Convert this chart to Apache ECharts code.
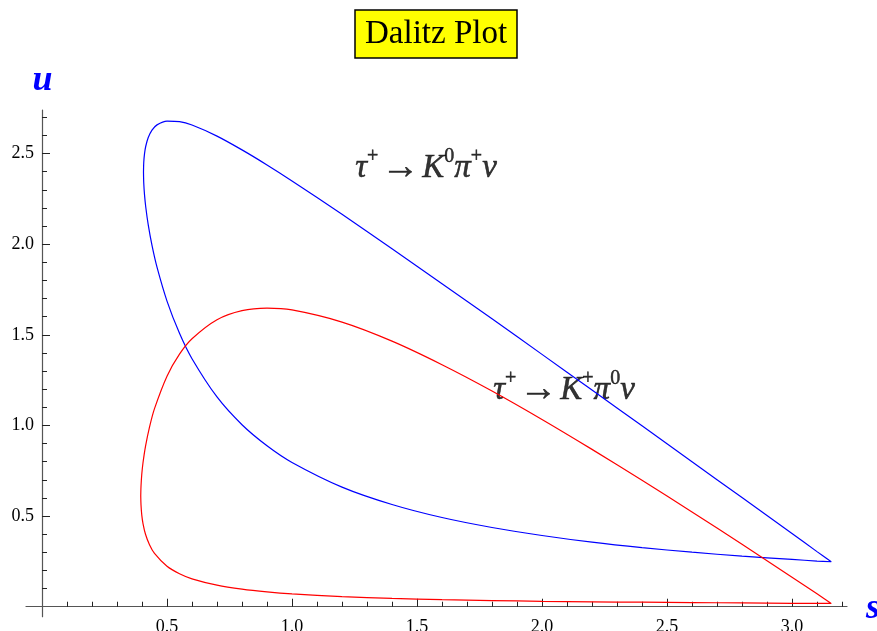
<!DOCTYPE html>
<html><head><meta charset="utf-8">
<script src="https://cdn.jsdelivr.net/npm/echarts@6/dist/echarts.min.js"></script>
<style>html,body{margin:0;padding:0;background:#fff;} #chart{width:877px;height:631px;}</style>
</head><body><div id="chart"></div>
<script>
// tau+ -> K0 pi+ nu  (blue boundary)
const blueS     = [0.406, 0.407, 0.41, 0.415, 0.425, 0.44, 0.46, 0.5, 0.55, 0.6, 0.7, 0.8, 0.9, 1.0, 1.2, 1.4, 1.6, 1.8, 2.0, 2.2, 2.4, 2.6, 2.8, 3.0, 3.1, 3.157];
const blueUpper = [2.396, 2.450, 2.498, 2.540, 2.588, 2.629, 2.658, 2.679, 2.676, 2.657, 2.596, 2.520, 2.437, 2.349, 2.165, 1.975, 1.782, 1.588, 1.392, 1.195, 0.998, 0.800, 0.602, 0.404, 0.304, 0.248];
const blueLower = [2.396, 2.337, 2.273, 2.205, 2.106, 1.993, 1.873, 1.686, 1.508, 1.368, 1.157, 1.004, 0.888, 0.796, 0.660, 0.564, 0.492, 0.437, 0.393, 0.356, 0.326, 0.301, 0.279, 0.261, 0.252, 0.248];
// tau+ -> K+ pi0 nu  (red boundary)
const redS      = [0.395, 0.396, 0.399, 0.404, 0.414, 0.43, 0.45, 0.5, 0.55, 0.6, 0.7, 0.8, 0.9, 1.0, 1.2, 1.4, 1.6, 1.8, 2.0, 2.2, 2.4, 2.6, 2.8, 3.0, 3.1, 3.157];
const redUpper  = [0.611, 0.663, 0.729, 0.794, 0.885, 0.991, 1.093, 1.272, 1.393, 1.478, 1.583, 1.633, 1.647, 1.637, 1.570, 1.465, 1.335, 1.190, 1.033, 0.868, 0.698, 0.523, 0.344, 0.163, 0.071, 0.018];
const redLower  = [0.611, 0.562, 0.507, 0.459, 0.400, 0.342, 0.294, 0.223, 0.182, 0.154, 0.119, 0.097, 0.082, 0.071, 0.056, 0.046, 0.039, 0.034, 0.030, 0.027, 0.025, 0.023, 0.021, 0.019, 0.019, 0.018];

const xMajorTicks = [0.5, 1.0, 1.5, 2.0, 2.5, 3.0];
const xMinorTicks = [0.1,0.2,0.3,0.4,0.6,0.7,0.8,0.9,1.1,1.2,1.3,1.4,1.6,1.7,1.8,1.9,2.1,2.2,2.3,2.4,2.6,2.7,2.8,2.9,3.1,3.2];
const yMajorTicks = [0.5, 1.0, 1.5, 2.0, 2.5];
const yMinorTicks = [0.1,0.2,0.3,0.4,0.6,0.7,0.8,0.9,1.1,1.2,1.3,1.4,1.6,1.7,1.8,1.9,2.1,2.2,2.3,2.4,2.6,2.7];

const titleText = 'Dalitz Plot';
const xName = 's';
const yName = 'u';
const labelBlue = '{b|τ}{p|+}{r|→}{b|K}{p|0}{b|π}{p|+}{b|ν}';
const labelRed  = '{b|τ}{p|+}{r|→}{b|K}{p|+}{b|π}{p|0}{b|ν}';
const labelBluePos = [1.536, 2.42];
const labelRedPos  = [2.088, 1.196];

function loop(s, up, lo) {
  const pts = s.map((v, i) => [v, up[i]]);
  for (let i = s.length - 2; i >= 0; i--) pts.push([s[i], lo[i]]);
  return pts;
}

const serif = 'Liberation Serif';
const axisColor = '#555';
const bold = { textBorderColor: '#000', textBorderWidth: 0.5 };
const rich = {
  b: Object.assign({ fontFamily: serif, fontStyle: 'italic', fontSize: 33, lineHeight: 42, color: '#000' }, bold),
  r: Object.assign({ fontFamily: serif, fontSize: 38, lineHeight: 42, color: '#000', padding: [0, 3, 0, 3] }, bold),
  p: Object.assign({ fontFamily: serif, fontSize: 20, lineHeight: 20, verticalAlign: 'top', color: '#000' }, bold)
};

const xBase = { type: 'value', min: -0.064, max: 3.22, position: 'bottom', splitLine: { show: false } };
const yBase = { type: 'value', min: -0.055, max: 2.74, position: 'left', splitLine: { show: false } };

const chart = echarts.init(document.getElementById('chart'), null, { renderer: 'canvas' });
chart.setOption({
  animation: false,
  backgroundColor: '#fff',
  title: {
    text: titleText, left: 355, top: 10,
    backgroundColor: '#ffff00', borderColor: '#000', borderWidth: 1.5,
    padding: [6, 10],
    textStyle: { fontFamily: serif, fontWeight: 'normal', fontSize: 33, lineHeight: 36, color: '#000' }
  },
  grid: { left: 26, right: 30, top: 110, bottom: 14.3, containLabel: false, outerBoundsMode: 'none' },
  xAxis: [
    Object.assign({}, xBase, {
      axisLine: { show: true, onZero: true, lineStyle: { color: axisColor, width: 1.2 } },
      axisTick: { show: true, inside: true, length: 8, customValues: xMajorTicks, lineStyle: { color: '#222', width: 1 } },
      axisLabel: { show: true, customValues: xMajorTicks, margin: 2, formatter: v => v.toFixed(1),
        fontFamily: serif, fontSize: 18, color: '#000' }
    }),
    Object.assign({}, xBase, {
      axisLine: { show: false, onZero: true },
      axisTick: { show: true, inside: true, length: 5, customValues: xMinorTicks, lineStyle: { color: '#222', width: 1 } },
      axisLabel: { show: false }
    })
  ],
  yAxis: [
    Object.assign({}, yBase, {
      axisLine: { show: true, onZero: true, lineStyle: { color: axisColor, width: 1.2 } },
      axisTick: { show: true, inside: true, length: 8, customValues: yMajorTicks, lineStyle: { color: '#222', width: 1 } },
      axisLabel: { show: true, customValues: yMajorTicks, margin: -8, formatter: v => v.toFixed(1),
        fontFamily: serif, fontSize: 18, color: '#000' }
    }),
    Object.assign({}, yBase, {
      axisLine: { show: false, onZero: true },
      axisTick: { show: true, inside: true, length: 5, customValues: yMinorTicks, lineStyle: { color: '#222', width: 1 } },
      axisLabel: { show: false }
    })
  ],
  graphic: [
    { type: 'text', x: 42.5, y: 81, style: { text: yName, align: 'center', verticalAlign: 'middle',
      font: 'italic bold 36px "Liberation Serif"', fill: '#0000ff' } },
    { type: 'text', x: 873, y: 609, style: { text: xName, align: 'center', verticalAlign: 'middle',
      font: 'italic bold 36px "Liberation Serif"', fill: '#0000ff' } }
  ],
  series: [
    { type: 'line', name: 'K0pi+nu', data: loop(blueS, blueUpper, blueLower), showSymbol: false, smooth: 0.3,
      lineStyle: { color: '#0000ff', width: 1.2 }, itemStyle: { color: '#0000ff' }, silent: true },
    { type: 'line', name: 'K+pi0nu', data: loop(redS, redUpper, redLower), showSymbol: false, smooth: 0.3,
      lineStyle: { color: '#ff0000', width: 1.2 }, itemStyle: { color: '#ff0000' }, silent: true },
    { type: 'scatter', symbolSize: 0, itemStyle: { color: 'rgba(0,0,0,0)' }, silent: true,
      data: [{ value: labelBluePos, label: { formatter: labelBlue } }, { value: labelRedPos, label: { formatter: labelRed } }],
      label: { show: true, position: 'inside', color: '#000', rich: rich } }
  ]
});
</script></body></html>
